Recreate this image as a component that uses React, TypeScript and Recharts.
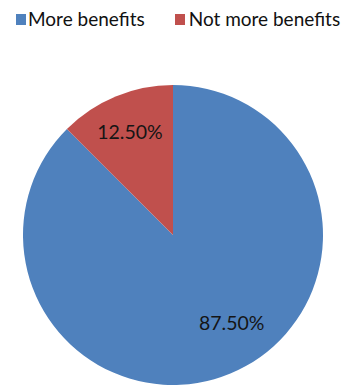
import React from "react";
import { PieChart, Pie, Cell } from "recharts";

const categories = ["More benefits", "Not more benefits"];
const values = [87.5, 12.5];
const colors = ["#4F81BD", "#C0504D"];

const data = categories.map((name, i) => ({ name, value: values[i] }));

const FONT = "Lato, 'Open Sans', sans-serif";
const RAD = Math.PI / 180;

// Excel-style label placement: radius fraction and angle tweak per slice
const labelTweak = [
  { r: 0.7, da: 11.5 },
  { r: 0.75, da: 0 },
];

const renderLabel = (props: any) => {
  const { cx, cy, midAngle, outerRadius, index, value } = props;
  const t = labelTweak[index];
  const a = (midAngle + t.da) * RAD;
  const r = outerRadius * t.r;
  const x = cx + r * Math.cos(a);
  const y = cy - r * Math.sin(a);
  return (
    <text
      x={x}
      y={y}
      fill="#151515"
      fontFamily={FONT}
      fontSize={19.5}
      textAnchor="middle"
      dominantBaseline="central"
    >
      {value.toFixed(2)}%
    </text>
  );
};

export default function App() {
  return (
    <div style={{ position: "absolute", left: 0, top: 0, width: 345, height: 386, background: "#fff" }}>
      <PieChart width={345} height={386} margin={{ top: 0, right: 0, bottom: 0, left: 0 }}>
        <Pie
          data={data}
          dataKey="value"
          nameKey="name"
          cx={173}
          cy={235}
          outerRadius={150}
          startAngle={90}
          endAngle={-270}
          stroke="none"
          label={renderLabel}
          labelLine={false}
          isAnimationActive={false}
        >
          {data.map((d, i) => (
            <Cell key={d.name} fill={colors[i]} />
          ))}
        </Pie>
      </PieChart>
      <div
        style={{
          position: "absolute",
          left: 16,
          top: 9,
          display: "flex",
          alignItems: "center",
          fontFamily: FONT,
          whiteSpace: "nowrap",
        }}
      >
        {data.map((d, i) => (
          <div key={d.name} style={{ display: "flex", alignItems: "center", marginRight: 30 }}>
            <span
              style={{
                display: "inline-block",
                width: 10,
                height: 11,
                background: colors[i],
                marginRight: i === 0 ? 2 : 4,
              }}
            />
            <span style={{ fontSize: 19, color: "#111", lineHeight: "20px" }}>{d.name}</span>
          </div>
        ))}
      </div>
    </div>
  );
}
